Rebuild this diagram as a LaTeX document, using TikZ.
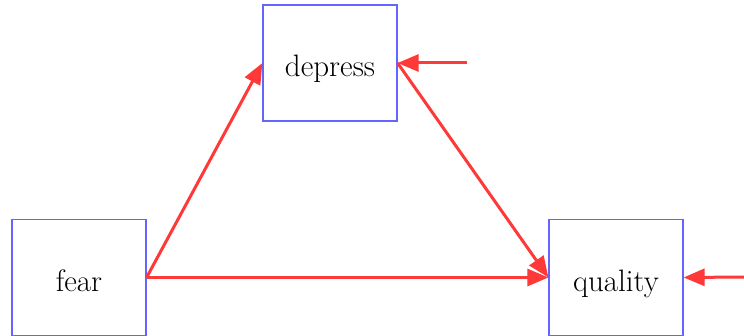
\documentclass[tikz,border=0pt]{standalone}
\usetikzlibrary{arrows.meta}
\definecolor{pathred}{RGB}{255,56,56}
\definecolor{boxblue}{RGB}{100,100,255}

\begin{document}
\begin{tikzpicture}[x=0.5pt, y=-0.5pt,
  var/.style={draw=boxblue, line width=0.6pt, minimum width=67pt, minimum height=58pt, inner sep=0pt, text height=14pt, text depth=0pt, font=\fontsize{15.5}{18}\selectfont},
  path/.style={-{Triangle[length=10.5pt, width=8.5pt]}, draw=pathred, fill=pathred, line width=1.5pt}]
\useasboundingbox (0,0) rectangle (744,336);
\node[var] (depress) at (330,63)    {depress};
\node[var] (fear)    at (79,277.5)  {fear};
\node[var] (quality) at (616,277.5) {quality};

% residuals
\coordinate (resd) at (467,63);
\coordinate (resq) at (744,277);

\draw[path] (fear.east) -- (depress.west);
\draw[path] (fear.east) -- (quality.west);
\draw[path] (depress.east) -- (quality.west);
\draw[path] (resd) -- (depress.east);
\draw[path] (resq) -- (quality.east);
\end{tikzpicture}
\end{document}
